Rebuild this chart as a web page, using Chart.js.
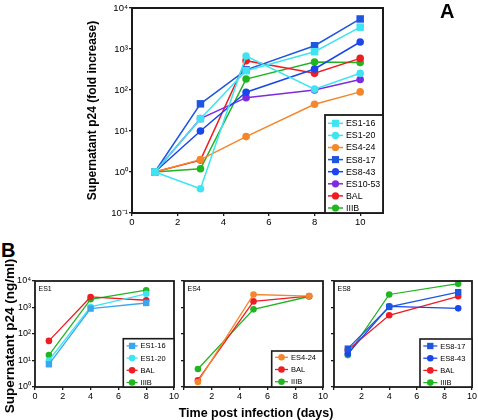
<!DOCTYPE html>
<html><head><meta charset="utf-8">
<script src="https://cdn.jsdelivr.net/npm/chart.js@4.4.0/dist/chart.umd.min.js"></script>
<style>
html,body{margin:0;padding:0;background:#fff;}
#wrap{position:relative;width:478px;height:420px;overflow:hidden;font-family:'Liberation Sans',Arial,sans-serif;background:#fff;}
canvas{position:absolute;}
.lbl{position:absolute;font-weight:bold;color:#000;white-space:nowrap;}
</style></head><body>
<div id="wrap">
<canvas id="cA" width="418" height="235" style="left:60px;top:0px"></canvas>
<canvas id="cB1" width="180" height="150" style="left:0px;top:270px"></canvas>
<canvas id="cB2" width="180" height="150" style="left:150px;top:270px"></canvas>
<canvas id="cB3" width="178" height="150" style="left:300px;top:270px"></canvas>
<div class="lbl" style="left:440px;top:1px;font-size:20px;line-height:20px">A</div>
<div class="lbl" style="left:1px;top:240px;font-size:20px;line-height:20px">B</div>
<div class="lbl" style="left:-90px;top:327px;width:200px;height:18px;line-height:18px;text-align:center;font-size:13.5px;transform:rotate(-90deg);transform-origin:50% 50%">Supernatant p24 (ng/ml)</div>
<div class="lbl" style="left:156px;top:405px;width:200px;text-align:center;font-size:12.5px;line-height:16px">Time post infection (days)</div>
</div>
<script>
// ---------- data ----------
const daysA = [1, 3, 5, 8, 10];
const A_ES1_16 = [1, 20, 295, 860, 3400];
const A_ES1_20 = [1, 0.39, 675, 105, 255];
const A_ES4_24 = [1, 2, 7.3, 45, 90];
const A_ES8_17 = [1, 46, 310, 1200, 5400];
const A_ES8_43 = [1, 10, 88, 325, 1480];
const A_ES10_53 = [1, 20, 65, 100, 180];
const A_BAL = [1, 1.95, 520, 255, 590];
const A_IIIB = [1, 1.2, 185, 480, 470];

const daysB1 = [1, 4, 8];
const B1_ES1_16 = [7.2, 910, 1480];
const B1_ES1_20 = [10, 1050, 3300];
const B1_BAL = [55, 2500, 1880];
const B1_IIIB = [16, 2050, 4500];

const daysB2 = [1, 5, 9];
const B2_ES4_24 = [1.55, 3100, 2700];
const B2_BAL = [1.8, 1700, 2700];
const B2_IIIB = [4.8, 850, 2600];

const daysB3 = [1, 4, 9];
const B3_ES8_17 = [28, 1050, 3800];
const B3_ES8_43 = [18, 1100, 930];
const B3_BAL = [25, 510, 2650];
const B3_IIIB = [16, 3100, 7900];

const xTicks = [0, 2, 4, 6, 8, 10];
const yTicksA = [0.1, 1, 10, 100, 1000, 10000];
const yTicksB = [1, 10, 100, 1000, 10000];

// ---------- styles ----------
const C = {
  cyan: '#3fe4f2', sky: '#3aa6ee', orange: '#f5862b', blue1: '#1f56e0', blue2: '#1a47ec',
  purple: '#7e2be0', red: '#ee1d23', green: '#22b522'
};
Chart.defaults.font.family = "'Liberation Sans', Arial, sans-serif";
Chart.defaults.color = '#000';

const SUP = {'-':'\u207B','0':'\u2070','1':'\u00B9','2':'\u00B2','3':'\u00B3','4':'\u2074','5':'\u2075','6':'\u2076','7':'\u2077','8':'\u2078','9':'\u2079'};
function pow10Label(v){
  const e = Math.round(Math.log10(v));
  return '10' + String(e).split('').map(c => SUP[c]).join('');
}

function ds(label, xs, ys, color, style, r, lw){
  return {
    label, data: xs.map((x, i) => ({x, y: ys[i]})),
    borderColor: color, backgroundColor: color, pointBackgroundColor: color, pointBorderColor: color,
    pointStyle: style, pointRadius: r, pointHoverRadius: r, pointBorderWidth: 0,
    borderWidth: lw, tension: 0, fill: false
  };
}

const framePlugin = {
  id: 'frame',
  afterDraw(chart, args, o){
    const ctx = chart.ctx, a = chart.chartArea;
    ctx.save();
    ctx.strokeStyle = '#1a1a1a';
    ctx.lineWidth = o.frameWidth || 2;
    ctx.strokeRect(a.left, a.top, a.right - a.left, a.bottom - a.top);
    if (o.panel){
      ctx.fillStyle = '#000';
      ctx.font = o.panelFont + "px 'Liberation Sans', Arial, sans-serif";
      ctx.textBaseline = 'middle';
      ctx.textAlign = 'left';
      ctx.fillText(o.panel, a.left + 3.5, a.top + 8);
    }
    const L = o.legend;
    if (L){
      const sets = chart.data.datasets;
      const bx = a.right - L.w, by = a.bottom - L.h;
      ctx.fillStyle = '#fff';
      ctx.fillRect(bx, by, L.w, L.h);
      ctx.strokeStyle = '#1a1a1a';
      ctx.lineWidth = L.bw;
      ctx.strokeRect(bx, by, L.w, L.h);
      ctx.font = L.font + "px 'Liberation Sans', Arial, sans-serif";
      ctx.textBaseline = 'middle';
      ctx.textAlign = 'left';
      sets.forEach((d, i) => {
        const y = by + L.first + i * L.row;
        const x0 = bx + L.x0, x1 = x0 + L.len, xm = (x0 + x1) / 2;
        ctx.strokeStyle = d.borderColor; ctx.lineWidth = d.borderWidth;
        ctx.beginPath(); ctx.moveTo(x0, y); ctx.lineTo(x1, y); ctx.stroke();
        ctx.fillStyle = d.borderColor;
        const r = d.pointRadius * L.mscale;
        ctx.beginPath();
        if (d.pointStyle === 'rect'){
          const s = r * Math.SQRT1_2;
          ctx.rect(xm - s, y - s, 2 * s, 2 * s);
        } else {
          ctx.arc(xm, y, r, 0, Math.PI * 2);
        }
        ctx.fill();
        ctx.fillStyle = '#000';
        ctx.fillText(d.label, x1 + L.gap, y + 0.5);
      });
    }
    ctx.restore();
  }
};

function scales(o){
  const gridCfg = {display: true, drawOnChartArea: false, drawTicks: true, tickLength: 3, color: '#1a1a1a', lineWidth: 1.3};
  return {
    x: {
      type: 'linear', min: 0, max: o.xmax,
      afterBuildTicks: s => { s.ticks = xTicks.map(v => ({value: v})); },
      afterFit: s => { s.height = o.xh; },
      grid: gridCfg, border: {display: false},
      ticks: {font: {size: o.tf}, color: '#000', padding: 1, maxRotation: 0, autoSkip: false,
        callback: v => (o.hideZero && v === 0) ? '' : String(v)}
    },
    y: {
      type: 'logarithmic', min: o.ymin, max: 10000,
      afterBuildTicks: s => { s.ticks = o.yt.map(v => ({value: v})); },
      afterFit: s => { s.width = o.yw; },
      grid: gridCfg, border: {display: false},
      ticks: {font: {size: o.tf}, color: '#000', padding: 1, autoSkip: false,
        callback: v => o.hideY ? '' : pow10Label(v)},
      title: o.ytitle ? {display: true, text: o.ytitle, color: '#000',
        font: {size: 12, weight: 'bold'}, padding: {top: o.ytpad, bottom: 0}} : {display: false}
    }
  };
}

function make(id, datasets, sc, pad, frame){
  return new Chart(document.getElementById(id), {
    type: 'line',
    data: {datasets},
    options: {
      responsive: false, animation: false, events: [],
      layout: {padding: pad},
      scales: scales(sc),
      plugins: {legend: {display: false}, tooltip: {enabled: false}, frame}
    },
    plugins: [framePlugin]
  });
}

// Panel A
const rA = 3.8, sA = 5.3, lwA = 1.5;
make('cA', [
  ds('ES1-16', daysA, A_ES1_16, C.cyan, 'rect', sA, lwA),
  ds('ES1-20', daysA, A_ES1_20, C.cyan, 'circle', rA, lwA),
  ds('ES4-24', daysA, A_ES4_24, C.orange, 'circle', rA, lwA),
  ds('ES8-17', daysA, A_ES8_17, C.blue1, 'rect', sA, lwA),
  ds('ES8-43', daysA, A_ES8_43, C.blue2, 'circle', rA, lwA),
  ds('ES10-53', daysA, A_ES10_53, C.purple, 'circle', rA, lwA),
  ds('BAL', daysA, A_BAL, C.red, 'circle', rA, lwA),
  ds('IIIB', daysA, A_IIIB, C.green, 'circle', rA, lwA)
], {xmax: 11, xh: 22, yw: 72, ymin: 0.1, yt: yTicksA, tf: 9.5, ytitle: 'Supernatant p24 (fold increase)', ytpad: 25.8},
{top: 8, right: 95, left: 0, bottom: 0},
{frameWidth: 2, legend: {w: 58, h: 98, first: 8.3, row: 12.1, x0: 3, len: 15, gap: 3, font: 8.8, bw: 1.8, mscale: 0.95}});

// Panel B
const rB = 3.3, sB = 4.5, lwB = 1.3;
const legB = {first: 7.2, row: 12.2, x0: 3.3, len: 13, gap: 3, font: 7.5, bw: 1.6, mscale: 1};
make('cB1', [
  ds('ES1-16', daysB1, B1_ES1_16, C.sky, 'rect', sB, lwB),
  ds('ES1-20', daysB1, B1_ES1_20, C.cyan, 'circle', rB, lwB),
  ds('BAL', daysB1, B1_BAL, C.red, 'circle', rB, lwB),
  ds('IIIB', daysB1, B1_IIIB, C.green, 'circle', rB, lwB)
], {xmax: 10, xh: 33, yw: 35, ymin: 1, yt: yTicksB, tf: 9},
{top: 11, right: 6, left: 0, bottom: 0},
{frameWidth: 1.8, panel: 'ES1', panelFont: 7, legend: Object.assign({}, legB, {w: 50.7, h: 48.3, len: 11})});

make('cB2', [
  ds('ES4-24', daysB2, B2_ES4_24, C.orange, 'circle', rB, lwB),
  ds('BAL', daysB2, B2_BAL, C.red, 'circle', rB, lwB),
  ds('IIIB', daysB2, B2_IIIB, C.green, 'circle', rB, lwB)
], {xmax: 10, xh: 33, yw: 34, ymin: 1, yt: yTicksB, tf: 9, hideZero: true, hideY: true},
{top: 11, right: 7, left: 0, bottom: 0},
{frameWidth: 1.8, panel: 'ES4', panelFont: 7, legend: Object.assign({}, legB, {w: 51.3, h: 36, first: 6.3})});

make('cB3', [
  ds('ES8-17', daysB3, B3_ES8_17, C.blue1, 'rect', sB, lwB),
  ds('ES8-43', daysB3, B3_ES8_43, C.blue2, 'circle', rB, lwB),
  ds('BAL', daysB3, B3_BAL, C.red, 'circle', rB, lwB),
  ds('IIIB', daysB3, B3_IIIB, C.green, 'circle', rB, lwB)
], {xmax: 10, xh: 33, yw: 34, ymin: 1, yt: yTicksB, tf: 9, hideZero: true, hideY: true},
{top: 11, right: 5, left: 0, bottom: 0},
{frameWidth: 1.8, panel: 'ES8', panelFont: 7, legend: Object.assign({}, legB, {w: 52, h: 48, first: 7, len: 14})});
</script>
</body></html>
